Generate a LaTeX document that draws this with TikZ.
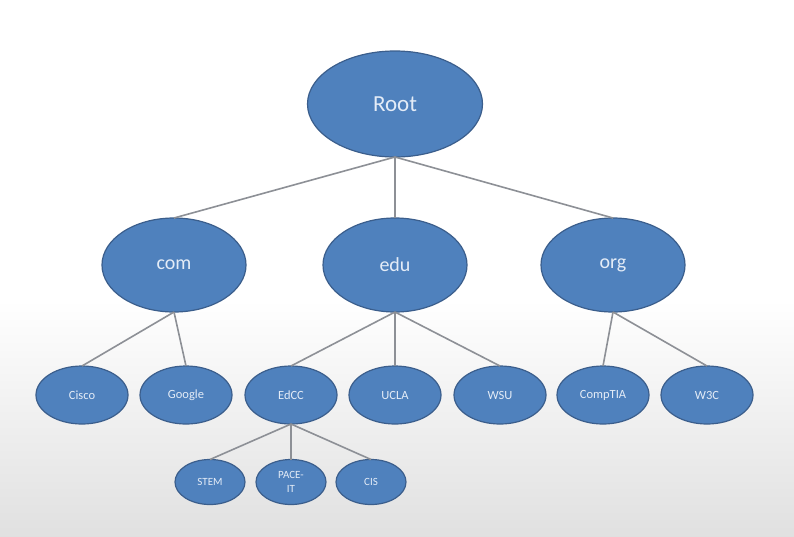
\documentclass[tikz,border=0pt]{standalone}
\usepackage{fontspec}
\setmainfont{Carlito}
\usetikzlibrary{shapes.geometric}
\definecolor{nodeblue}{HTML}{4F81BD}
\definecolor{nodeedge}{HTML}{3B5E8C}
\definecolor{linkgray}{HTML}{8D9096}
\definecolor{labelwhite}{HTML}{E4ECF7}

\begin{document}
\begin{tikzpicture}[x=1pt,y=-1pt,
	blob/.style={draw=nodeedge,line width=1.2pt,fill=nodeblue,ellipse,inner sep=0,outer sep=0,text=labelwhite,align=center},
	rootnode/.style={blob,minimum width=175pt,minimum height=106pt,font=\fontsize{23}{27}\selectfont},
	domnode/.style={blob,minimum width=144pt,minimum height=94pt,font=\fontsize{20}{24}\selectfont},
	sitenode/.style={blob,minimum width=92pt,minimum height=58pt,font=\fontsize{12.5}{15}\selectfont},
	subnode/.style={blob,minimum width=70pt,minimum height=45pt,font=\fontsize{11}{14}\selectfont},
	link/.style={draw=linkgray,line width=1.6pt}]
	\useasboundingbox (0,0) rectangle (794,536);
	\fill[white] (0,0) rectangle (794,536);
	\shade[top color=white,bottom color=black!12] (0,300) rectangle (794,536);
	\node[rootnode] (1) at (395,104) {Root};
	\node[domnode] (2) at (174,265) {com};
	\node[domnode] (3) at (395,265) {edu};
	\node[domnode] (4) at (613,265) {org};
	\node[sitenode] (5) at (82,395) {Cisco};
	\node[sitenode] (6) at (186,395) {Google};
	\node[sitenode] (7) at (291,395) {EdCC};
	\node[sitenode] (8) at (395,395) {UCLA};
	\node[sitenode] (9) at (500,395) {WSU};
	\node[sitenode] (10) at (603,395) {CompTIA};
	\node[sitenode] (11) at (707,395) {W3C};
	\node[subnode] (12) at (210,482) {STEM};
	\node[subnode] (13) at (291,482) {PACE-\\IT};
	\node[subnode] (14) at (371,482) {CIS};
	\draw[link] (1.south) -- (2.north);
	\draw[link] (1.south) -- (3.north);
	\draw[link] (1.south) -- (4.north);
	\draw[link] (2.south) -- (5.north);
	\draw[link] (2.south) -- (6.north);
	\draw[link] (3.south) -- (7.north);
	\draw[link] (3.south) -- (8.north);
	\draw[link] (3.south) -- (9.north);
	\draw[link] (4.south) -- (10.north);
	\draw[link] (4.south) -- (11.north);
	\draw[link] (7.south) -- (12.north);
	\draw[link] (7.south) -- (13.north);
	\draw[link] (7.south) -- (14.north);
\end{tikzpicture}
\end{document}
